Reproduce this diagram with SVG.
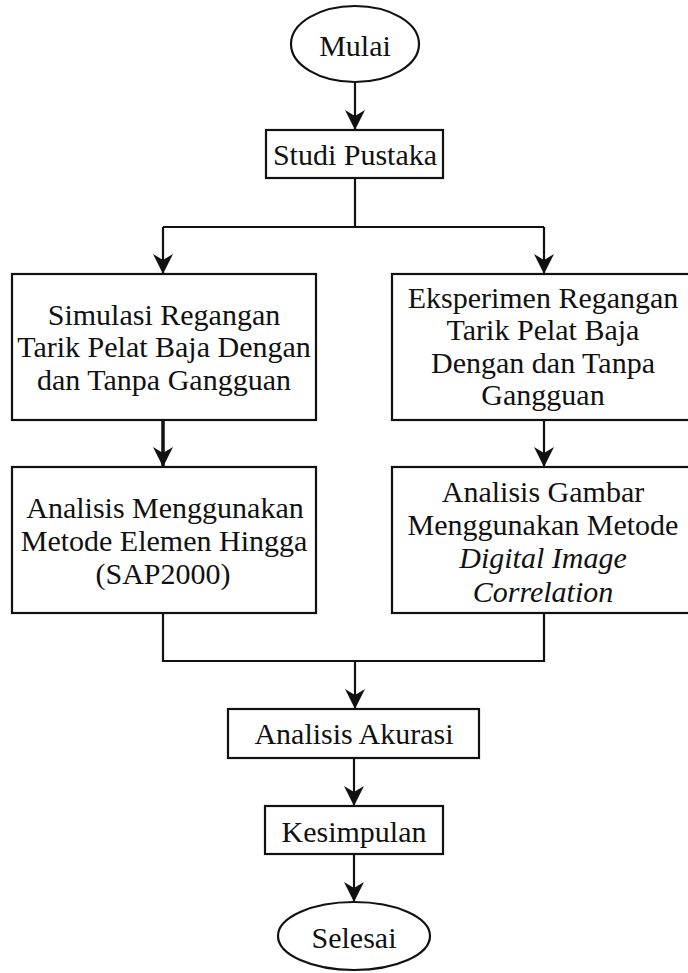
<svg xmlns="http://www.w3.org/2000/svg" width="688" height="973" viewBox="0 0 688 973">
<style>
.n{fill:#fff;stroke:#111;stroke-width:2.2}
.t{font-family:"Liberation Serif","Times New Roman",serif;font-size:30px;fill:#111;text-anchor:middle}
.i{font-style:italic}
.c{fill:none;stroke:#111;stroke-width:2.2}
.thick{stroke-width:3.5}
</style>
<defs>
<marker id="ah" viewBox="0 0 20 20" refX="20" refY="10" markerWidth="20" markerHeight="20" markerUnits="userSpaceOnUse" orient="auto">
<path d="M0,0 L20,10 L0,20 L6,10 Z" fill="#111"/>
</marker>
</defs>
<rect width="688" height="973" fill="#fff"/>
<g id="connectors">
<path class="c" d="M355,82 V130" marker-end="url(#ah)"/>
<path class="c" d="M355,178 V227"/>
<path class="c" d="M163,227 H544"/>
<path class="c" d="M163,227 V274" marker-end="url(#ah)"/>
<path class="c" d="M544,227 V274" marker-end="url(#ah)"/>
<path class="c thick" d="M163,420 V467" marker-end="url(#ah)"/>
<path class="c" d="M544,420 V467" marker-end="url(#ah)"/>
<path class="c" d="M163,613 V661 H544 V613"/>
<path class="c" d="M355,661 V709" marker-end="url(#ah)"/>
<path class="c" d="M354,758 V806" marker-end="url(#ah)"/>
<path class="c" d="M354,854 V902" marker-end="url(#ah)"/>
</g>
<g id="mulai">
<ellipse class="n" cx="355" cy="44" rx="64" ry="38"/>
<text class="t" x="355" y="56">Mulai</text>
</g>
<g id="studi">
<rect class="n" x="266" y="130" width="177" height="48"/>
<text class="t" x="355" y="165">Studi Pustaka</text>
</g>
<g id="simulasi">
<rect class="n" x="12" y="274" width="304" height="146"/>
<text class="t" x="164" y="325">Simulasi Regangan</text>
<text class="t" x="164" y="357">Tarik Pelat Baja Dengan</text>
<text class="t" x="164" y="390">dan Tanpa Gangguan</text>
</g>
<g id="eksperimen">
<rect class="n" x="392" y="274" width="304" height="146"/>
<text class="t" x="543" y="308">Eksperimen Regangan</text>
<text class="t" x="543" y="340">Tarik Pelat Baja</text>
<text class="t" x="543" y="373">Dengan dan Tanpa</text>
<text class="t" x="543" y="405">Gangguan</text>
</g>
<g id="analisis-fem">
<rect class="n" x="12" y="467" width="304" height="146"/>
<text class="t" x="165" y="518">Analisis Menggunakan</text>
<text class="t" x="164" y="551">Metode Elemen Hingga</text>
<text class="t" x="163" y="584">(SAP2000)</text>
</g>
<g id="analisis-dic">
<rect class="n" x="392" y="467" width="304" height="146"/>
<text class="t" x="543" y="502">Analisis Gambar</text>
<text class="t" x="543" y="535">Menggunakan Metode</text>
<text class="t i" x="543" y="568">Digital Image</text>
<text class="t i" x="543" y="602">Correlation</text>
</g>
<g id="akurasi">
<rect class="n" x="228" y="709" width="251" height="49"/>
<text class="t" x="354" y="744">Analisis Akurasi</text>
</g>
<g id="kesimpulan">
<rect class="n" x="265" y="806" width="178" height="48"/>
<text class="t" x="354" y="842">Kesimpulan</text>
</g>
<g id="selesai">
<ellipse class="n" cx="354" cy="936" rx="76" ry="34"/>
<text class="t" x="354" y="948">Selesai</text>
</g>
</svg>
